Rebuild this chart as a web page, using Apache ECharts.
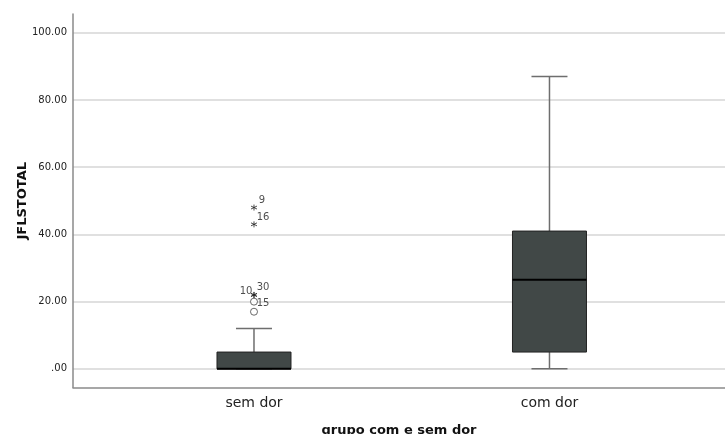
<!DOCTYPE html>
<html><head><meta charset="utf-8">
<script src="https://cdn.jsdelivr.net/npm/echarts@6/dist/echarts.min.js"></script>
<style>html,body{margin:0;padding:0;background:#fff}#c{width:725px;height:434px}</style>
</head><body><div id="c"></div>
<script>
const categories = ['sem dor', 'com dor'];
// [min, Q1, median, Q3, max]
const boxStats = [
  [0, 0, 0, 5, 12],
  [0, 5, 26.5, 41, 87]
];
const yTicks = [0, 20, 40, 60, 80, 100];
// mild outliers (circles)
const outlierCat = [0, 0];
const outlierValues = [17, 20];
const outlierIds = ['', '15'];
// extreme outliers (stars)
const extremeCat = [0, 0, 0, 0];
const extremeValues = [22, 22, 43, 48];
const extremeIds = ['10', '30', '16', '9'];

const labelOffsets = {'15': [9, 2], '10': [-8, -4], '30': [9, -8], '16': [9, -7], '9': [8, -7]};

const chart = echarts.init(document.getElementById('c'), null, {renderer: 'canvas'});
const boxData = boxStats.map((s, i) => [i + 1].concat(s));

function renderBox(params, api) {
  const x = api.value(0);
  const pMin = api.coord([x, api.value(1)]);
  const pQ1 = api.coord([x, api.value(2)]);
  const pMed = api.coord([x, api.value(3)]);
  const pQ3 = api.coord([x, api.value(4)]);
  const pMax = api.coord([x, api.value(5)]);
  const cx = pMin[0];
  const half = 37, cap = 18;
  const wStyle = {stroke: '#6e6e6e', lineWidth: 1.5};
  return {
    type: 'group',
    children: [
      {type: 'line', shape: {x1: cx, y1: pQ3[1], x2: cx, y2: pMax[1]}, style: wStyle},
      {type: 'line', shape: {x1: cx, y1: pQ1[1], x2: cx, y2: pMin[1]}, style: wStyle},
      {type: 'line', shape: {x1: cx - cap, y1: pMax[1], x2: cx + cap, y2: pMax[1]}, style: wStyle},
      {type: 'line', shape: {x1: cx - cap, y1: pMin[1], x2: cx + cap, y2: pMin[1]}, style: wStyle},
      {type: 'rect', shape: {x: cx - half, y: pQ3[1], width: half * 2, height: pQ1[1] - pQ3[1]},
        style: {fill: '#414847', stroke: '#222', lineWidth: 1}},
      {type: 'line', shape: {x1: cx - half, y1: pMed[1], x2: cx + half, y2: pMed[1]},
        style: {stroke: '#000', lineWidth: 2}}
    ]
  };
}

function pointData(cats, vals, ids) {
  return vals.map((v, i) => {
    const id = ids[i];
    const o = labelOffsets[id] || [8, 0];
    return {
      value: [cats[i] + 1, v],
      name: id,
      label: {show: id !== '', formatter: id, position: 'inside', offset: o,
        fontSize: 10, color: '#222', fontFamily: 'DejaVu Sans'}
    };
  });
}

chart.setOption({
  animation: false,
  grid: {left: 73, right: 0, top: 14, bottom: 46.5, outerBoundsMode: 'none', containLabel: false},
  xAxis: {
    type: 'value', min: 0.3875, max: 2.594,
    axisLine: {show: true, onZero: false, lineStyle: {color: '#8a8a8a', width: 1.5}},
    axisTick: {show: false},
    splitLine: {show: false},
    axisLabel: {customValues: [1, 2], formatter: v => categories[Math.round(v) - 1],
      fontSize: 14, color: '#222', margin: 9, fontFamily: 'DejaVu Sans'},
    name: 'grupo com e sem dor', nameLocation: 'middle', nameGap: 37, nameMoveOverlap: false,
    nameTextStyle: {fontSize: 13, fontWeight: 'bold', color: '#111', fontFamily: 'DejaVu Sans'}
  },
  yAxis: {
    type: 'value', min: -5.55, max: 105.6,
    axisLine: {show: true, onZero: false, lineStyle: {color: '#8a8a8a', width: 1.5}},
    axisTick: {show: false, customValues: yTicks},
    splitLine: {show: true, lineStyle: {color: '#d6d6d6', width: 1.5}},
    axisLabel: {customValues: yTicks, formatter: v => v === 0 ? '.00' : v.toFixed(2),
      fontSize: 10, color: '#222', margin: 6, fontFamily: 'DejaVu Sans'},
    name: 'JFLSTOTAL', nameLocation: 'middle', nameGap: 44, nameRotate: 90, nameMoveOverlap: false,
    nameTextStyle: {fontSize: 13, fontWeight: 'bold', color: '#111', fontFamily: 'DejaVu Sans'}
  },
  series: [
    {type: 'custom', renderItem: renderBox, data: boxData, encode: {x: 0, y: [1, 2, 3, 4, 5]}, z: 3},
    {type: 'scatter', symbol: 'circle', symbolSize: 7,
      itemStyle: {color: '#fff', borderColor: '#444', borderWidth: 1},
      data: pointData(outlierCat, outlierValues, outlierIds), z: 4},
    {type: 'scatter', symbol: 'path://M5 0 L5 10 M0.67 2.5 L9.33 7.5 M0.67 7.5 L9.33 2.5',
      symbolSize: 6,
      itemStyle: {color: 'none', borderColor: '#222', borderWidth: 1},
      data: pointData(extremeCat, extremeValues, extremeIds), z: 4}
  ]
});
</script></body></html>
